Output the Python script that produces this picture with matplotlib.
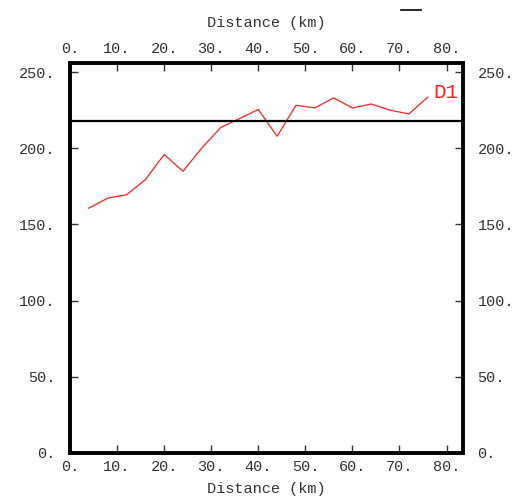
import matplotlib
matplotlib.use('Agg')
import matplotlib.pyplot as plt
from matplotlib.lines import Line2D

# 数据
dist = [4, 8, 12, 16, 20, 24, 28, 32, 36, 40, 44, 48, 52, 56, 60, 64, 68, 72, 76]
d1 = [160.7, 167.3, 169.5, 179.4, 195.9, 184.9, 200.2, 213.6, 219.5, 225.5,
      207.9, 228.3, 226.5, 233.1, 226.5, 229.1, 225.0, 222.6, 233.6]
ref_level = 218
xticks = [0, 10, 20, 30, 40, 50, 60, 70, 80]
yticks = [0, 50, 100, 150, 200, 250]

plt.rcParams['font.family'] = ['Liberation Mono', 'DejaVu Sans Mono']

fig = plt.figure(figsize=(5.15, 5.0), dpi=100)
ax = fig.add_axes([70 / 515, 47 / 500, 393 / 515, 390 / 500])

ax.plot(dist, d1, color='#ff2020', lw=0.9)
ax.axhline(ref_level, color='black', lw=1.6)
ax.text(77.3, d1[-1] + 3, 'D1', color='#ff2020', fontsize=15,
        va='center', ha='left')

ax.set_xlim(0, 83.5)
ax.set_ylim(0, 256)
ax.set_xticks(xticks)
ax.set_yticks(yticks)
ax.set_xticklabels([f'{v}.' for v in xticks])
ax.set_yticklabels([f'{v}.' for v in yticks])

ax.tick_params(direction='in', length=6, width=1, labelsize=11,
               top=True, right=True, labeltop=True, labelright=True, pad=5,
               colors='#333333')
ax.tick_params(axis='y', pad=10.5)
for s in ax.spines.values():
    s.set_linewidth(2.8)

ax.set_xlabel('Distance (km)', fontsize=11, labelpad=6, color='#333333')
sec = ax.secondary_xaxis('top')
sec.set_xticks([])
sec.spines['top'].set_visible(False)
sec.set_xlabel('Distance (km)', fontsize=11, labelpad=26, color='#333333')

# 右上角的小横线
fig.add_artist(Line2D([401 / 515, 421 / 515], [1 - 10 / 500, 1 - 10 / 500],
                      color='black', lw=1.2))

plt.savefig('out.png', dpi=100)
plt.close()
